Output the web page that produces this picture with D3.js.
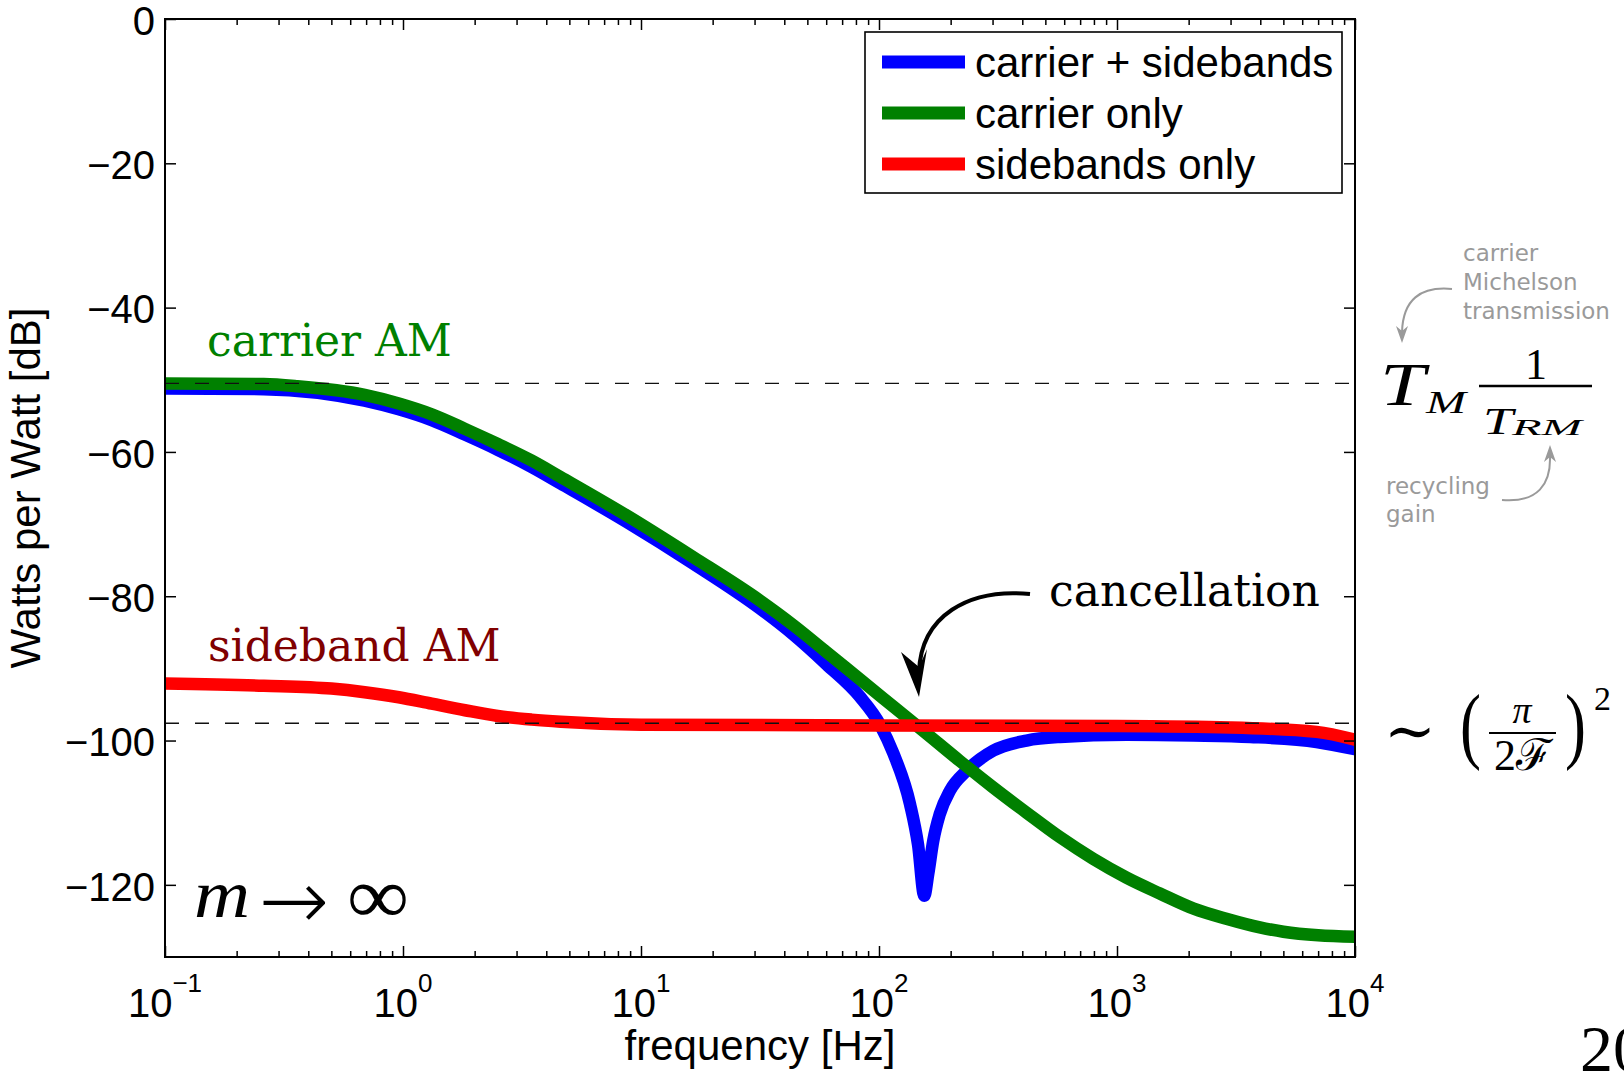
<!DOCTYPE html>
<html>
<head>
<meta charset="utf-8">
<script src="https://cdnjs.cloudflare.com/ajax/libs/d3/7.8.5/d3.min.js"></script>
<style>
  body { margin: 0; background: #fff; overflow: hidden; }
  text { font-family: "Liberation Sans", Arial, Helvetica, sans-serif; }
  .serif { font-family: "DejaVu Serif", serif; }
  .math { font-family: "Liberation Serif", "DejaVu Serif", serif; }
  .note { font-family: "DejaVu Sans", sans-serif; fill: #9a9a9a; font-size: 23px; }
</style>
</head>
<body>
<div id="container"></div>
<script>

//Values (frequency in Hz, power in dB)
var blueFreq = [0.1, 0.26, 0.69, 0.96, 1.32, 1.82, 2.5, 3.47, 4.6, 8.7, 16.6, 31.6, 43.6, 60, 83, 101, 115, 135, 146, 155, 161, 169, 180, 199, 233, 302, 417, 576, 1096, 2100, 3630, 6900, 10000];
var blueDb   = [-51.2, -51.3, -52.9, -54.1, -55.6, -57.6, -59.7, -62.1, -64.4, -69.7, -75.5, -81.7, -85.3, -89.4, -93.9, -97.8, -101.8, -108.8, -114.5, -121.5, -118.5, -113.9, -110.2, -106.9, -104.2, -101.4, -100.0, -99.5, -99.2, -99.3, -99.5, -100.2, -101.2];

var greenFreq = [0.1, 0.26, 0.36, 0.69, 0.96, 1.32, 1.82, 2.5, 3.47, 4.6, 8.7, 16.6, 31.6, 43.6, 60, 83, 115, 158, 218, 302, 417, 576, 795, 1096, 1514, 2100, 2880, 3980, 5000, 7000, 10000];
var greenDb   = [-50.5, -50.6, -50.9, -52.1, -53.3, -54.8, -56.8, -58.9, -61.2, -63.5, -68.8, -74.6, -80.6, -84.0, -87.7, -91.5, -95.3, -99.0, -102.8, -106.5, -110.0, -113.4, -116.4, -119.0, -121.2, -123.3, -124.7, -125.9, -126.5, -127.0, -127.2];

var redFreq = [0.1, 0.26, 0.5, 0.69, 0.96, 1.32, 1.82, 2.5, 3.47, 4.6, 10, 100, 1000, 3000, 6900, 10000];
var redDb   = [-92.1, -92.4, -92.8, -93.3, -94.0, -94.9, -95.8, -96.6, -97.1, -97.4, -97.8, -97.9, -98.0, -98.2, -98.8, -99.9];

var seriesNames  = ["carrier + sidebands", "carrier only", "sidebands only"];
var seriesColors = ["#0000ff", "#008000", "#ff0000"];

var yTicks = [-120, -100, -80, -60, -40, -20, 0];
var xDecades = [-1, 0, 1, 2, 3, 4];
var refLevels = [-50.5, -97.6];   //dashed guide lines

//Width and height
var w = 1624;
var h = 1073;
var margin = {top: 19, right: 269, bottom: 116, left: 165};
var x0 = margin.left, x1 = w - margin.right;
var y0 = h - margin.bottom, y1 = margin.top;

//Scales
var x = d3.scaleLog().domain([0.1, 1e4]).range([x0, x1]);
var y = d3.scaleLinear().domain([-130, 0]).range([y0, y1]);

//Create SVG
var svg = d3.select("#container")
      .append("svg")
      .attr("width", w)
      .attr("height", h);

svg.append("defs").append("clipPath").attr("id", "plotclip")
   .append("rect")
   .attr("x", x0).attr("y", y1)
   .attr("width", x1 - x0).attr("height", y0 - y1);

//Curves (blue under green under red)
var line = d3.line()
      .x(function(d) { return x(d.f); })
      .y(function(d) { return y(d.v); })
      .curve(d3.curveMonotoneX);

function pairs(fs, vs) {
  return fs.map(function(f, i) { return {f: f, v: vs[i]}; });
}
var series = [pairs(blueFreq, blueDb), pairs(greenFreq, greenDb), pairs(redFreq, redDb)];

var plot = svg.append("g").attr("clip-path", "url(#plotclip)");

plot.selectAll("path.curve")
    .data(series)
    .enter()
    .append("path")
    .attr("class", "curve")
    .attr("d", line)
    .attr("fill", "none")
    .attr("stroke", function(d, i) { return seriesColors[i]; })
    .attr("stroke-width", 12.5)
    .attr("stroke-linejoin", "round")
    .attr("stroke-linecap", "round");

//Dashed reference levels
plot.selectAll("line.ref")
    .data(refLevels)
    .enter()
    .append("line")
    .attr("class", "ref")
    .attr("x1", x0).attr("x2", x1)
    .attr("y1", function(d) { return y(d); })
    .attr("y2", function(d) { return y(d); })
    .attr("stroke", "#111")
    .attr("stroke-width", 1.4)
    .attr("stroke-dasharray", "14,16");

//Axes: ticks inward on all four sides
var majorX = xDecades.map(function(d) { return Math.pow(10, d); });
var minorX = [];
xDecades.slice(0, -1).forEach(function(d) {
  for (var k = 2; k <= 9; k++) minorX.push(k * Math.pow(10, d));
});

function clean(g) {
  g.select(".domain").remove();
  g.selectAll(".tick line").attr("stroke", "#000").attr("stroke-width", 1.5);
}

svg.append("g").attr("transform", "translate(0," + y0 + ")")
   .call(d3.axisBottom(x).tickValues(majorX).tickSize(-11).tickFormat("")).call(clean);
svg.append("g").attr("transform", "translate(0," + y0 + ")")
   .call(d3.axisBottom(x).tickValues(minorX).tickSize(-6).tickFormat("")).call(clean);
svg.append("g").attr("transform", "translate(0," + y1 + ")")
   .call(d3.axisTop(x).tickValues(majorX).tickSize(-11).tickFormat("")).call(clean);
svg.append("g").attr("transform", "translate(0," + y1 + ")")
   .call(d3.axisTop(x).tickValues(minorX).tickSize(-6).tickFormat("")).call(clean);

var yAxis = svg.append("g").attr("transform", "translate(" + x0 + ",0)")
   .call(d3.axisLeft(y).tickValues(yTicks).tickSize(-11).tickPadding(10).tickFormat(d3.format("d")))
   .call(clean);
yAxis.selectAll("text")
   .attr("dy", "0.38em")
   .attr("fill", "#000")
   .style("font-family", "'Liberation Sans', Arial, sans-serif")
   .style("font-size", "40px");

svg.append("g").attr("transform", "translate(" + x1 + ",0)")
   .call(d3.axisRight(y).tickValues(yTicks).tickSize(-11).tickFormat("")).call(clean);

//Frame
svg.append("rect")
   .attr("x", x0).attr("y", y1)
   .attr("width", x1 - x0).attr("height", y0 - y1)
   .attr("fill", "none")
   .attr("stroke", "#000")
   .attr("stroke-width", 2);

//Decade labels 10^n
var xLab = svg.append("g").selectAll("text")
    .data(xDecades)
    .enter()
    .append("text")
    .attr("x", function(d) { return x(Math.pow(10, d)); })
    .attr("y", 1017)
    .attr("text-anchor", "middle")
    .style("font-size", "40px");
xLab.append("tspan").text("10");
xLab.append("tspan")
    .attr("dy", -25)
    .style("font-size", "26px")
    .text(function(d) { return d < 0 ? "\u2212" + (-d) : d; });

//Axis titles
svg.append("text")
   .attr("x", (x0 + x1) / 2).attr("y", 1060)
   .attr("text-anchor", "middle")
   .style("font-size", "42px")
   .text("frequency [Hz]");

svg.append("text")
   .attr("transform", "translate(40," + (y0 + y1) / 2 + ") rotate(-90)")
   .attr("text-anchor", "middle")
   .style("font-size", "42px")
   .text("Watts per Watt [dB]");

//Legend
var legend = svg.append("g");
legend.append("rect")
   .attr("x", 865).attr("y", 32)
   .attr("width", 477).attr("height", 161)
   .attr("fill", "#fff")
   .attr("stroke", "#000")
   .attr("stroke-width", 1.6);
var legendRows = legend.selectAll("g.row")
   .data(seriesNames)
   .enter()
   .append("g")
   .attr("class", "row")
   .attr("transform", function(d, i) { return "translate(0," + (62 + i * 51) + ")"; });
legendRows.append("line")
   .attr("x1", 882).attr("x2", 965)
   .attr("stroke", function(d, i) { return seriesColors[i]; })
   .attr("stroke-width", 13);
legendRows.append("text")
   .attr("x", 975).attr("y", 15)
   .style("font-size", "42px")
   .text(function(d) { return d; });

//Curve labels
svg.append("text").attr("class", "serif")
   .attr("x", 207).attr("y", 356)
   .attr("fill", "#008000")
   .style("font-size", "44px")
   .text("carrier AM");
svg.append("text").attr("class", "serif")
   .attr("x", 208).attr("y", 661)
   .attr("fill", "#800000")
   .style("font-size", "44px")
   .text("sideband AM");
svg.append("text").attr("class", "serif")
   .attr("x", 1049).attr("y", 606)
   .attr("fill", "#000")
   .style("font-size", "44px")
   .text("cancellation");

//Cancellation arrow
svg.append("path")
   .attr("d", "M1030,594 C968,588 921,616 919,672")
   .attr("fill", "none")
   .attr("stroke", "#000")
   .attr("stroke-width", 4);
svg.append("path")
   .attr("d", "M919,697 L901,652 L919,667 L927,649 Z")
   .attr("fill", "#000");

//m -> infinity
svg.append("text").attr("class", "math")
   .attr("x", 194).attr("y", 917)
   .attr("textLength", 56).attr("lengthAdjust", "spacingAndGlyphs")
   .style("font-style", "italic").style("font-size", "68px")
   .text("m");
svg.append("text")
   .attr("x", 294).attr("y", 900)
   .attr("text-anchor", "middle")
   .attr("dominant-baseline", "central")
   .style("font-family", "'DejaVu Sans', sans-serif")
   .style("font-size", "84px")
   .style("font-weight", "300")
   .text("\u2192");
svg.append("text").attr("class", "math")
   .attr("x", 347).attr("y", 923)
   .attr("textLength", 62).attr("lengthAdjust", "spacingAndGlyphs")
   .style("font-size", "80px")
   .text("\u221e");

//T_M / T_RM
var tm = svg.append("text").attr("class", "math").style("font-style", "italic");
tm.append("tspan").attr("x", 1380).attr("y", 405)
  .attr("textLength", 45).attr("lengthAdjust", "spacingAndGlyphs")
  .style("font-size", "62px").text("T");
tm.append("tspan").attr("x", 1426).attr("y", 413)
  .attr("textLength", 40).attr("lengthAdjust", "spacingAndGlyphs")
  .style("font-size", "31px").text("M");
svg.append("text").attr("class", "math")
   .attr("x", 1536).attr("y", 379)
   .attr("text-anchor", "middle")
   .style("font-size", "44px")
   .text("1");
svg.append("line")
   .attr("x1", 1479).attr("x2", 1592)
   .attr("y1", 386).attr("y2", 386)
   .attr("stroke", "#000").attr("stroke-width", 2.5);
var trm = svg.append("text").attr("class", "math").style("font-style", "italic");
trm.append("tspan").attr("x", 1483).attr("y", 434)
   .attr("textLength", 30).attr("lengthAdjust", "spacingAndGlyphs")
   .style("font-size", "38px").text("T");
trm.append("tspan").attr("x", 1512).attr("y", 435)
   .attr("textLength", 70).attr("lengthAdjust", "spacingAndGlyphs")
   .style("font-size", "24px").text("RM");

//Grey side notes
var note1 = svg.append("text").attr("class", "note");
["carrier", "Michelson", "transmission"].forEach(function(s, i) {
  note1.append("tspan").attr("x", 1463).attr("y", 261 + i * 29).text(s);
});
var note2 = svg.append("text").attr("class", "note");
["recycling", "gain"].forEach(function(s, i) {
  note2.append("tspan").attr("x", 1386).attr("y", 494 + i * 28).text(s);
});
svg.append("path")
   .attr("d", "M1452,289 C1420,286 1403,300 1402,332")
   .attr("fill", "none").attr("stroke", "#9a9a9a").attr("stroke-width", 2);
svg.append("path")
   .attr("d", "M1402,343 L1396,326 L1402,331 L1408,326 Z")
   .attr("fill", "#9a9a9a");
svg.append("path")
   .attr("d", "M1502,500 C1538,503 1551,484 1550,456")
   .attr("fill", "none").attr("stroke", "#9a9a9a").attr("stroke-width", 2);
svg.append("path")
   .attr("d", "M1550,445 L1544,462 L1550,457 L1556,462 Z")
   .attr("fill", "#9a9a9a");

//~ (pi / 2F)^2
svg.append("text").attr("class", "math")
   .attr("x", 1384).attr("y", 752)
   .style("font-size", "62px")
   .text("\u223c");
svg.append("text").attr("class", "math")
   .attr("transform", "translate(1460,753) scale(0.75,1)")
   .style("font-size", "84px")
   .text("(");
svg.append("text").attr("class", "math")
   .attr("transform", "translate(1565,753) scale(0.75,1)")
   .style("font-size", "84px")
   .text(")");
svg.append("text").attr("class", "math")
   .attr("x", 1522).attr("y", 723)
   .attr("text-anchor", "middle")
   .style("font-size", "38px")
   .style("font-style", "italic")
   .text("\u03c0");
svg.append("line")
   .attr("x1", 1489).attr("x2", 1556)
   .attr("y1", 733).attr("y2", 733)
   .attr("stroke", "#000").attr("stroke-width", 2);
svg.append("text").attr("class", "math")
   .attr("x", 1523).attr("y", 770)
   .attr("text-anchor", "middle")
   .style("font-size", "44px")
   .text("2\u2131");
svg.append("text").attr("class", "math")
   .attr("x", 1594).attr("y", 710)
   .style("font-size", "34px")
   .text("2");

//Cut-off page mark at the bottom right (cropped in the original too)
svg.append("text").attr("class", "math")
   .attr("x", 1580).attr("y", 1071)
   .style("font-size", "66px")
   .text("20");

</script>
</body>
</html>
